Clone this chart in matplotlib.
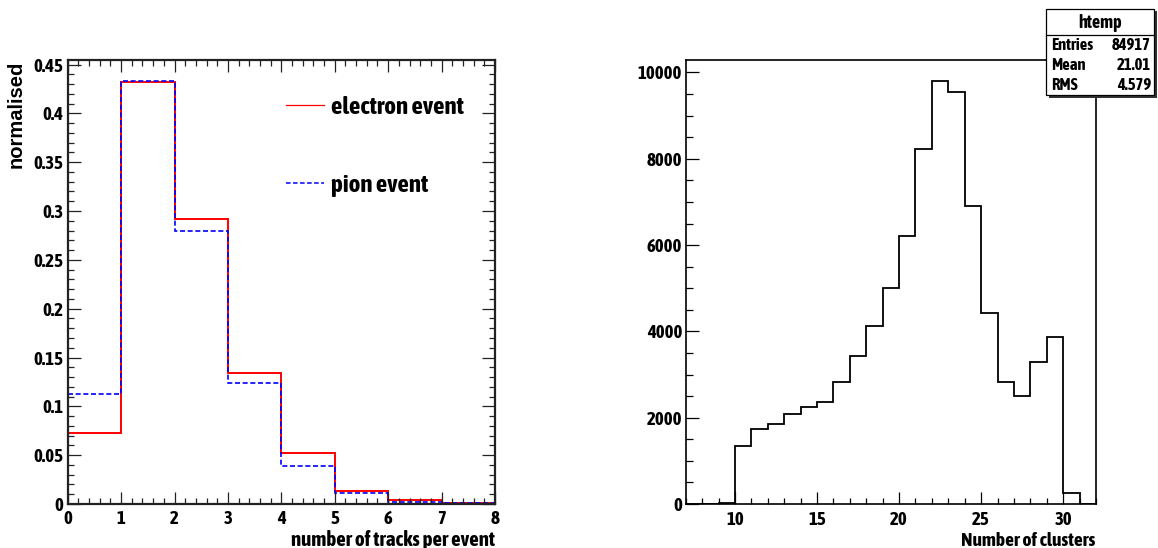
import matplotlib
matplotlib.use('Agg')
import matplotlib.pyplot as plt
from matplotlib.ticker import MultipleLocator, FuncFormatter
from matplotlib.patches import Rectangle
from matplotlib.lines import Line2D

# ---------------- data ----------------
track_edges = [0, 1, 2, 3, 4, 5, 6, 7, 8]
electron_frac = [0.0728, 0.432, 0.2915, 0.1344, 0.0524, 0.0129, 0.0037, 0.0010]
pion_frac = [0.1122, 0.433, 0.280, 0.1235, 0.0391, 0.0112, 0.0024, 0.0007]

cluster_edges = list(range(7, 33))
cluster_counts = [0, 0, 30, 1337, 1747, 1862, 2087, 2249, 2372, 2828, 3423, 4119,
                  5008, 6213, 8230, 9799, 9544, 6917, 4436, 2836, 2504, 3284, 3864,
                  247, 0]

stat_title = "htemp"
stat_names = ["Entries", "Mean", "RMS"]
stat_values = ["84917", "21.01", "4.579"]

legend_labels = ["electron event", "pion event"]

# ---------------- style ----------------
NARROW = ['Asap Condensed', 'Liberation Sans', 'DejaVu Sans']
plt.rcParams['font.family'] = NARROW
plt.rcParams['font.weight'] = 'bold'

W, H = 1158, 548
fig = plt.figure(figsize=(W / 100, H / 100), dpi=100)

def fx(px):
    return px / W

def fy(py):
    return 1 - py / H

# ---------------- left panel ----------------
axL = fig.add_axes([fx(67.7), fy(504), fx(495) - fx(67.7), fy(60) - fy(504)])
axL.stairs(electron_frac, track_edges, color='#ff0000', lw=1.4, baseline=None)
axL.stairs(pion_frac, track_edges, color='#0000ff', lw=1.2, ls=(0, (3, 1.6)), baseline=None)
axL.set_xlim(0, 8)
axL.set_ylim(0, 1.05 * max(max(electron_frac), max(pion_frac)))
axL.xaxis.set_major_locator(MultipleLocator(1))
axL.xaxis.set_minor_locator(MultipleLocator(0.2))
axL.yaxis.set_major_locator(MultipleLocator(0.05))
axL.yaxis.set_minor_locator(MultipleLocator(0.01))
axL.yaxis.set_major_formatter(FuncFormatter(lambda v, p: '%g' % round(v, 3)))
axL.tick_params(which='both', direction='in', top=True, right=True, width=0.9, color='#222222')
axL.tick_params(axis='y', which='major', length=9.4, pad=3.0, labelsize=13.5)
axL.tick_params(axis='y', which='minor', length=4.4)
axL.tick_params(axis='x', which='major', length=8.6, pad=4.5, labelsize=13.5)
axL.tick_params(axis='x', which='minor', length=4.4)
for s in axL.spines.values():
    s.set_linewidth(1.6)
    s.set_color('#222222')

leg = axL.legend(handles=[Line2D([], [], color='#ff0000', lw=0.9),
                          Line2D([], [], color='#0000ff', lw=1.1, ls=(0, (3, 1.6)))],
                 labels=legend_labels, frameon=False, loc='upper left',
                 bbox_to_anchor=(fx(286), fy(96)), bbox_transform=fig.transFigure,
                 borderaxespad=0, borderpad=0, handlelength=1.5, handletextpad=0.3,
                 labelspacing=2.2, prop={'family': NARROW, 'weight': 'bold', 'size': 18})

fig.text(fx(16.5), fy(61), 'normalised', rotation=90, ha='center', va='top',
         fontsize=14.5, fontweight='bold', family=['Liberation Sans', 'DejaVu Sans'])
fig.text(fx(495), fy(546), 'number of tracks per event', ha='right', va='baseline',
         fontsize=15, fontweight='bold')

# ---------------- right panel ----------------
axR = fig.add_axes([fx(685.7), fy(504), fx(1096) - fx(685.7), fy(60) - fy(504)])
axR.stairs(cluster_counts, cluster_edges, color='black', lw=1.3, baseline=0)
axR.set_xlim(cluster_edges[0], cluster_edges[-1])
axR.set_ylim(0, 1.05 * max(cluster_counts))
axR.xaxis.set_major_locator(MultipleLocator(5))
axR.xaxis.set_minor_locator(MultipleLocator(1))
axR.yaxis.set_major_locator(MultipleLocator(2000))
axR.yaxis.set_minor_locator(MultipleLocator(500))
axR.tick_params(which='both', direction='in', top=False, right=False, width=0.9)
axR.tick_params(axis='y', which='major', length=9.4, pad=2.6, labelsize=13.5)
axR.tick_params(axis='y', which='minor', length=5.2)
axR.tick_params(axis='x', which='major', length=8.6, pad=5.0, labelsize=13.5)
axR.tick_params(axis='x', which='minor', length=4.4)
for s in axR.spines.values():
    s.set_linewidth(1.2)
    s.set_color('black')

fig.text(fx(1095), fy(546), 'Number of clusters', ha='right', va='baseline',
         fontsize=14, fontweight='bold')

# ---------------- stat box ----------------
bx0, bx1, by0, by1 = 1046, 1154, 9, 95
fig.patches.append(Rectangle((fx(bx0 + 2.5), fy(by1 + 2.5)), fx(bx1) - fx(bx0), fy(by0) - fy(by1),
                             transform=fig.transFigure, facecolor='#333333', edgecolor='none', zorder=10))
fig.patches.append(Rectangle((fx(bx0), fy(by1)), fx(bx1) - fx(bx0), fy(by0) - fy(by1),
                             transform=fig.transFigure, facecolor='white', edgecolor='black',
                             lw=0.9, zorder=11))
fig.lines.append(Line2D([fx(bx0), fx(bx1)], [fy(34.7), fy(34.7)], transform=fig.transFigure,
                        color='black', lw=0.9, zorder=12))
fig.text(fx((bx0 + bx1) / 2), fy(22.5), stat_title, ha='center', va='center',
         fontsize=13, fontweight='bold', zorder=13)
row_y = [45.0, 64.8, 84.6]
for name, val, yy in zip(stat_names, stat_values, row_y):
    fig.text(fx(1051), fy(yy), name, ha='left', va='center', fontsize=12, fontweight='bold', zorder=13)
    fig.text(fx(1151), fy(yy), val, ha='right', va='center', fontsize=12, fontweight='bold', zorder=13)

fig.savefig('out.png', dpi=100)
